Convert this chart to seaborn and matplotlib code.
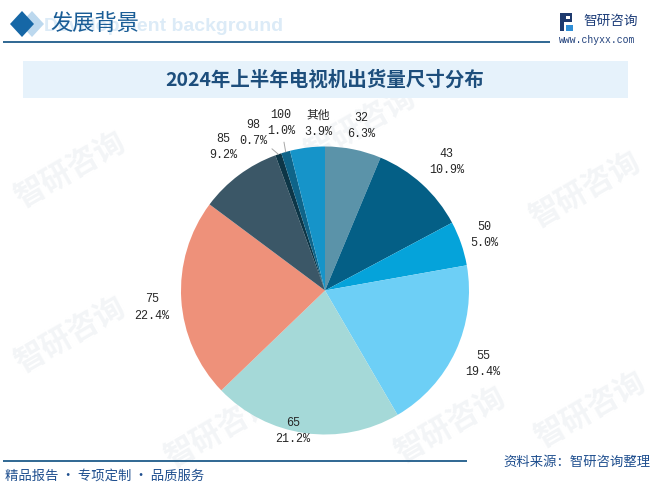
import matplotlib
matplotlib.use("Agg")
import matplotlib.pyplot as plt
import seaborn as sns
import numpy as np
from matplotlib.patches import Rectangle, Polygon

# ---------------- data ----------------
sizes = ["32", "43", "50", "55", "65", "75", "85", "98", "100", "其他"]
shares = [6.3, 10.9, 5.0, 19.4, 21.2, 22.4, 9.2, 0.7, 1.0, 3.9]
colors = ["#5b93a9", "#045f86", "#05a3da", "#6dcff6", "#a5d9d8",
          "#ee917a", "#3b5767", "#0d3647", "#0f6489", "#1694c9"]
title = "2024年上半年电视机出货量尺寸分布"

# label placement (layout only): radius factor and angle nudge per label
label_r = [1.17, 1.23, 1.17, 1.21, 1.0, 1.21, 1.22, 1.2, 1.2, 1.16]
label_dt = [-1, -1, 0, 0, -5, 2, -1.5, 5.5, -1.0, -4.6]

sns.set_theme(style="white")
plt.rcParams['font.family'] = ['Noto Sans CJK SC', 'DejaVu Sans']

W, H = 653, 486
fig = plt.figure(figsize=(W / 100, H / 100), dpi=100)
ax = fig.add_axes([0, 0, 1, 1])


def Y(y):
    return H - y


# faint watermarks
for (wx, wy) in [(360, 125), (585, 190), (70, 170), (70, 335), (450, 425), (590, 410), (220, 430)]:
    ax.text(wx, Y(wy), "智研咨询", fontsize=22, color="#f3f5f7", rotation=30,
            ha="center", va="center", zorder=0, fontweight="bold")

# pie
cx, cy, R = 325, Y(290.5), 144
wedges, _ = ax.pie(shares, colors=colors, startangle=90, counterclock=False,
                   center=(cx, cy), radius=R, wedgeprops=dict(linewidth=0))
for w in wedges:
    w.set_zorder(2)

ax.set_xlim(0, W)
ax.set_ylim(0, H)
ax.set_aspect('equal')
ax.axis('off')

lab_font = dict(family=['Liberation Mono', 'Noto Sans CJK SC'], fontsize=8.5,
                color="#262626", ha="center", va="center", linespacing=1.45, zorder=5)
for i, w in enumerate(wedges):
    mid = (w.theta1 + w.theta2) / 2.0
    ang = np.deg2rad(mid + label_dt[i])
    lx = cx + label_r[i] * R * np.cos(ang)
    ly = cy + label_r[i] * R * np.sin(ang)
    txt = f"{sizes[i]}\n{shares[i]:.1f}%"
    if sizes[i] in ("98", "100"):
        m = np.deg2rad(mid)
        ex, ey = cx + R * np.cos(m), cy + R * np.sin(m)
        ax.annotate(txt, xy=(ex, ey), xytext=(lx, ly),
                    arrowprops=dict(arrowstyle='-', color="#a6a6a6", lw=0.7,
                                    shrinkA=1, shrinkB=0), **lab_font)
    else:
        ax.text(lx, ly, txt, **lab_font)

# title band
ax.add_patch(Rectangle((23, Y(98)), 605, 37, facecolor="#e6f2fb", edgecolor="none", zorder=1))
ax.text(325, Y(80), title, fontsize=14, fontweight="bold", color="#1d4e7c",
        ha="center", va="center", zorder=3)

# header
ax.text(283, Y(27), "Development background", fontsize=14, fontweight="bold",
        color="#dcebf7", ha="right", va="center", family="Liberation Sans", zorder=1)
ax.add_patch(Polygon([(32, Y(11)), (44, Y(24)), (32, Y(37)), (20, Y(24))],
                     closed=True, facecolor="#bcd8ee", edgecolor="none", zorder=2))
ax.add_patch(Polygon([(22, Y(11)), (34, Y(24)), (22, Y(37)), (10, Y(24))],
                     closed=True, facecolor="#1667a6", edgecolor="none", zorder=3))
ax.text(50, Y(23), "发展背景", fontsize=16, color="#1a5d96", ha="left", va="center", zorder=3)
ax.plot([3, 550], [Y(42), Y(42)], color="#1f5c8a", lw=1.3, zorder=3, solid_capstyle="butt")

# logo
ax.add_patch(Polygon([(560, Y(13)), (572, Y(13)), (572, Y(22)), (564, Y(22)), (564, Y(31)),
                      (560, Y(31))], closed=True, facecolor="#1e3a6e", edgecolor="none", zorder=3))
ax.add_patch(Rectangle((566, Y(31)), 7, 6, facecolor="#2f8fd6", edgecolor="none", zorder=3))
ax.add_patch(Rectangle((566, Y(19.5)), 3.5, 3.5, facecolor="white", edgecolor="none", zorder=4))
ax.text(583, Y(21), "智研咨询", fontsize=9.8, color="#1f3f7a", ha="left", va="center", zorder=3)
ax.text(597, Y(40), "www.chyxx.com", fontsize=7, color="#1f3f7a", ha="center", va="center",
        family="Liberation Mono", zorder=3)

# footer
ax.plot([3, 467], [Y(461), Y(461)], color="#1f5c8a", lw=1.3, zorder=3, solid_capstyle="butt")
ax.text(650, Y(462), "资料来源：智研咨询整理", fontsize=9.6, color="#1f4f8f",
        ha="right", va="center", zorder=3)
ax.text(5, Y(476), "精品报告 · 专项定制 · 品质服务", fontsize=9.6, color="#1f4f8f",
        ha="left", va="center", zorder=3)

fig.savefig("out.png", dpi=100, facecolor="white")
